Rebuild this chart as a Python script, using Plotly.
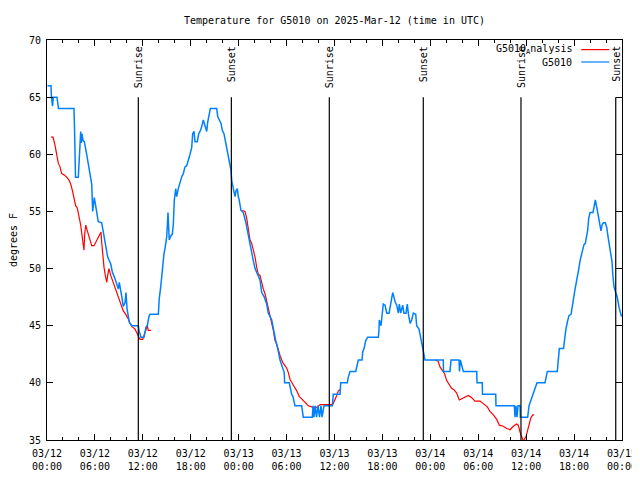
import pandas as pd
import plotly.graph_objects as go

# ---------------- data ----------------
BASE = pd.Timestamp("2025-03-12 00:00")

# G5010 observations: hours since 2025-03-12 00:00 UTC, temperature (F)
obs_hours = [0.06, 0.50, 0.56, 0.69, 0.79, 1.25, 1.44, 3.38, 3.44, 3.57, 3.92, 4.07, 4.22, 4.30, 4.38, 4.51,
             4.67, 4.97, 5.17, 5.38, 5.60, 5.72, 5.92, 6.14, 6.42, 6.85, 7.05, 7.35, 7.60, 7.98, 8.18, 8.52,
             8.93, 9.05, 9.20, 9.35, 9.55, 9.77, 9.89, 10.02, 10.31, 10.61, 11.43, 11.55, 11.77, 12.15, 12.40,
             12.56, 12.77, 12.90, 13.94, 14.06, 14.24, 14.37, 14.49, 14.65, 14.81, 14.99, 15.09, 15.15, 15.24,
             15.31, 15.53, 15.69, 15.82, 15.94, 16.12, 16.24, 16.44, 16.57, 16.74, 16.90, 17.07, 17.28, 17.49,
             17.69, 17.91, 18.12, 18.24, 18.41, 18.53, 18.82, 19.00, 19.16, 19.37, 19.57, 19.79, 20.00, 20.12,
             20.29, 20.45, 21.25, 21.38, 21.58, 21.79, 21.95, 22.16, 22.41, 22.58, 22.75, 22.92, 23.04, 23.13,
             23.25, 23.45, 23.54, 23.67, 23.83, 23.95, 24.04, 24.29, 24.58, 24.88, 25.21, 25.42, 25.63, 25.83,
             26.05, 26.38, 26.67, 26.89, 27.21, 27.51, 27.71, 28.14, 28.34, 28.64, 28.89, 29.18, 29.46, 29.71,
             29.75, 30.34, 30.64, 30.80, 31.05, 31.89, 32.09, 33.22, 33.31, 33.43, 33.56, 33.75, 33.93, 34.12,
             34.31, 34.44, 34.69, 35.73, 35.85, 36.69, 36.78, 37.60, 37.73, 37.94, 38.66, 38.78, 38.98, 39.45,
             39.53, 39.70, 39.91, 40.16, 41.49, 41.57, 41.61, 41.82, 41.99, 42.11, 42.33, 42.54, 42.83, 43.04,
             43.16, 43.29, 43.45, 43.58, 43.79, 43.99, 44.12, 44.29, 44.54, 44.70, 44.95, 45.12, 45.24, 45.46,
             45.67, 45.87, 46.17, 46.29, 46.58, 46.71, 46.92, 47.12, 47.25, 47.33, 49.62, 49.65, 50.46, 50.59,
             51.59, 51.65, 51.75, 51.90, 52.13, 53.81, 53.85, 54.51, 54.53, 56.19, 56.22, 58.52, 58.60, 58.73,
             58.85, 58.98, 59.23, 59.27, 60.19, 60.36, 60.61, 60.86, 61.11, 61.36, 62.36, 62.49, 62.65, 63.90,
             64.03, 64.15, 64.68, 64.78, 64.95, 65.15, 65.37, 65.62, 65.78, 65.95, 66.12, 66.28, 66.46, 66.62,
             66.78, 66.96, 67.08, 67.24, 67.41, 67.58, 67.71, 67.83, 68.00, 68.37, 68.53, 68.66, 68.83, 69.04,
             69.25, 69.37, 69.50, 69.66, 69.91, 70.09, 70.25, 70.41, 70.59, 70.75, 70.84, 71.00, 71.21, 71.41,
             71.63, 71.84, 71.94]
obs_temps = [66.0, 66.0, 65.0, 64.2, 65.0, 65.0, 64.0, 64.0, 62.5, 58.0, 58.0, 60.5, 62.0, 61.0, 61.8, 61.2,
             61.1, 60.0, 59.2, 58.2, 57.4, 55.0, 56.2, 55.3, 54.1, 54.0, 53.2, 52.3, 51.0, 50.4, 49.7, 49.1,
             48.2, 48.8, 48.0, 47.6, 46.7, 47.0, 47.9, 46.5, 45.3, 45.0, 45.0, 44.5, 44.0, 44.0, 44.9,
             45.0, 45.8, 46.0, 46.0, 47.4, 48.4, 49.5, 50.7, 51.3, 51.9, 52.8, 54.0, 54.9, 53.5,
             52.5, 52.9, 53.0, 53.9, 56.0, 57.0, 56.3, 57.0, 57.3, 57.9, 58.1, 58.3, 58.9, 59.0,
             59.6, 60.0, 60.6, 61.8, 62.0, 61.1, 61.1, 61.8, 62.0, 62.4, 63.0, 62.5, 62.0, 62.8,
             63.3, 64.0, 64.0, 63.3, 63.0, 62.7, 62.1, 61.8, 60.9, 60.3, 59.6, 59.0, 58.6, 57.7,
             57.3, 56.7, 56.3, 56.8, 57.0, 56.3, 56.1, 55.1, 54.9, 54.1, 52.8, 52.0, 51.3, 50.7,
             50.0, 49.4, 49.0, 47.9, 47.5, 46.9, 46.1, 45.5, 44.7, 43.7, 43.0, 42.0, 41.4, 40.9,
             40.0, 40.0, 39.0, 38.8, 38.0, 38.0, 37.0, 37.0, 38.0, 37.0, 38.0, 37.0, 38.0, 37.0,
             38.0, 37.0, 38.0, 38.0, 39.0, 39.0, 40.0, 40.0, 40.5, 41.0, 41.0, 41.5, 42.0, 42.0,
             42.7, 43.0, 43.7, 44.0, 44.0, 44.6, 45.5, 45.0, 46.3, 46.9, 46.8, 46.1, 46.1, 46.9,
             47.1, 47.9, 47.5, 47.1, 46.8, 46.1, 46.9, 46.1, 46.8, 46.1, 46.1, 46.9, 46.1, 45.2,
             45.5, 46.1, 46.0, 45.0, 44.7, 44.3, 43.7, 42.8, 42.3, 42.0, 42.0, 41.0, 41.0, 42.0,
             42.0, 41.0, 42.0, 41.5, 41.0, 41.0, 40.0, 40.0, 39.0, 39.0, 38.0, 38.0, 37.0, 38.0,
             37.0, 38.0, 38.0, 37.0, 37.0, 38.0, 38.5, 39.0, 39.5, 40.0, 40.0, 40.5, 41.0, 41.0,
             42.3, 43.0, 43.0, 43.7, 44.6, 45.3, 45.9, 46.0, 46.8, 47.6, 48.2, 48.8, 49.4, 50.1,
             50.8, 51.3, 51.7, 52.1, 52.2, 52.8, 53.4, 54.4, 54.9, 54.9, 55.7, 56.0, 55.4, 54.7,
             53.9, 53.3, 53.8, 54.0, 54.0, 53.6, 52.8, 52.2, 51.3, 50.6, 49.5, 48.4, 47.9, 47.5,
             46.6, 45.9, 45.8]

# G5010_Analysis: three separate segments
ana1_hours = [0.50, 0.75, 1.00, 1.21, 1.42, 1.63, 1.84, 2.13, 2.47, 2.79, 3.01, 3.22, 3.38, 3.59, 3.79, 4.01,
              4.22, 4.35, 4.47, 4.63, 4.72, 4.85, 5.05, 5.30, 5.60, 5.89, 6.22, 6.55, 6.76, 6.85, 6.97, 7.14,
              7.30, 7.48, 7.60, 7.76, 7.98, 8.18, 8.39, 8.64, 8.93, 9.14, 9.35, 9.55, 9.77, 9.98, 10.18, 10.39,
              10.68, 11.02, 11.23, 11.43, 11.65, 11.98, 12.27, 12.56, 12.68, 13.02]
ana1_temps = [61.5, 61.5, 60.8, 59.9, 59.2, 58.9, 58.3, 58.2, 58.0, 57.7, 57.3, 56.7, 56.1, 55.5, 55.3, 54.6,
              53.8, 53.1, 52.6, 51.6, 53.0, 53.8, 53.3, 52.6, 52.0, 52.0, 52.5, 52.9, 53.2, 52.3, 51.2, 50.1,
              49.4, 48.8, 49.4, 50.0, 49.4, 49.0, 48.6, 48.1, 47.6, 47.2, 46.8, 46.3, 46.1, 45.9, 45.6, 45.2,
              44.9, 44.7, 44.4, 44.1, 43.8, 43.8, 44.4, 45.0, 44.6, 44.6]
ana2_hours = [24.46, 24.79, 25.01, 25.21, 25.42, 25.63, 25.83, 26.05, 26.26, 26.46, 26.67, 26.89, 27.09, 27.30,
              27.51, 27.71, 27.92, 28.14, 28.34, 28.55, 28.76, 28.96, 29.18, 29.39, 29.59, 30.01, 30.22, 30.43,
              30.64, 30.93, 31.27, 31.59, 31.89, 32.31, 32.72, 33.15, 33.56, 33.87, 34.19, 35.78, 36.06, 36.28,
              36.48, 36.69]
ana2_temps = [55.1, 55.0, 54.4, 53.3, 52.5, 52.2, 51.7, 51.0, 50.1, 49.5, 49.4, 48.7, 48.2, 47.8,
              47.2, 46.6, 46.1, 45.2, 44.6, 43.7, 43.4, 42.8, 42.4, 42.0, 41.7, 41.3, 40.9, 40.3,
              40.0, 39.7, 39.3, 38.8, 38.6, 38.3, 38.0, 37.9, 37.8, 37.9, 38.1, 38.1, 38.5, 38.9,
              39.3, 39.4]
ana3_hours = [48.59, 48.97, 49.21, 49.55, 49.78, 50.05, 50.38, 50.68, 50.96, 51.30, 51.63, 51.93, 52.34, 52.76,
              53.18, 53.59, 54.22, 54.85, 55.14, 55.47, 55.89, 56.31, 56.64, 57.14, 57.56, 57.98, 58.39, 58.81,
              59.01, 59.23, 59.44, 59.65, 59.98, 60.27, 60.57, 60.82, 60.98]
ana3_temps = [42.0, 41.9, 41.4, 41.0, 40.8, 40.2, 39.8, 39.5, 39.4, 39.1, 38.5, 38.6, 38.7, 38.9,
              38.7, 38.4, 38.4, 38.1, 37.9, 37.5, 37.2, 36.8, 36.3, 36.2, 36.0, 35.9, 36.2, 36.4,
              36.3, 35.7, 35.3, 34.9, 35.3, 36.2, 36.9, 37.2, 37.2]

sun_times = ["2025-03-12 11:26", "2025-03-12 23:05", "2025-03-13 11:21",
             "2025-03-13 23:07", "2025-03-14 11:21", "2025-03-14 23:13"]
sun_labels = ["Sunrise", "Sunset", "Sunrise", "Sunset", "Sunrise", "Sunset"]

title_text = "Temperature for G5010 on 2025-Mar-12 (time in UTC)"
y_title = "degrees F"
legend_names = ["G5010<sub>A</sub>nalysis", "G5010"]
colors = ["#ff0000", "#0080ff"]

# ---------------- build ----------------
def to_time(hours):
    return [BASE + pd.Timedelta(hours=h) if h is not None else None for h in hours]

ana_hours = ana1_hours + [None] + ana2_hours + [None] + ana3_hours
ana_temps = ana1_temps + [None] + ana2_temps + [None] + ana3_temps

FONT = "DejaVu Sans Mono"
W, H = 640, 464   # page body adds an 8px offset; avoid vertical overflow
fig = go.Figure()
fig.add_trace(go.Scatter(x=to_time(ana_hours), y=ana_temps, mode="lines", connectgaps=False,
                         line=dict(color=colors[0], width=1.2), showlegend=False))
fig.add_trace(go.Scatter(x=to_time(obs_hours), y=obs_temps, mode="lines",
                         line=dict(color=colors[1], width=1.5), showlegend=False))

for t, lab in zip(sun_times, sun_labels):
    fig.add_shape(type="line", xref="x", yref="paper", x0=t, x1=t, y0=0, y1=0.857,
                  line=dict(color="black", width=1.2))
    fig.add_annotation(x=t, xref="x", y=0.99, yref="paper", text=lab, textangle=-90,
                       showarrow=False, xanchor="center", yanchor="top",
                       font=dict(family=FONT, size=10, color="black"))

# manual gnuplot-style key (text right, sample on right)
key_y = [0.976, 0.945]
for name, col, ky in zip(legend_names, colors, key_y):
    fig.add_annotation(x=0.916, xref="paper", y=ky, yref="paper", text=name, showarrow=False,
                       xanchor="right", yanchor="middle", font=dict(family=FONT, size=10, color="black"))
    fig.add_shape(type="line", xref="paper", yref="paper", x0=0.929, x1=0.978, y0=ky, y1=ky,
                  line=dict(color=col, width=1.2))

fig.update_layout(
    width=W, height=H,
    margin=dict(l=39, r=W - 39 - 575, t=32, b=H - 32 - 400, autoexpand=False),
    paper_bgcolor="white", plot_bgcolor="white",
    font=dict(family=FONT, size=10, color="black"),
    title=dict(text=title_text, x=(39 + 287.5) / W, xanchor="center", y=1 - 12 / H, yanchor="middle",
               yref="container", font=dict(family=FONT, size=10, color="black")),
    showlegend=False,
)
fig.update_xaxes(
    type="date", range=[BASE, BASE + pd.Timedelta(hours=72)], automargin=False,
    dtick=6 * 3600 * 1000, tick0=BASE, tickformat="%m/%d<br>%H:%M",
    ticks="inside", ticklen=6, tickcolor="black", tickwidth=1, ticklabelstandoff=4,
    minor=dict(dtick=2 * 3600 * 1000, ticks="inside", ticklen=3, tickcolor="black"),
    showline=True, linecolor="black", linewidth=1, mirror="ticks",
    showgrid=False, zeroline=False, tickfont=dict(family=FONT, size=10),
)
fig.update_yaxes(
    range=[35, 70], dtick=5, ticks="inside", ticklen=6, tickcolor="black", automargin=False,
    ticklabelstandoff=3,
    showline=True, linecolor="black", linewidth=1, mirror="ticks",
    showgrid=False, zeroline=False, tickfont=dict(family=FONT, size=10),
    title=dict(text=y_title, font=dict(family=FONT, size=10), standoff=10),
)

fig.write_html("out.html")
